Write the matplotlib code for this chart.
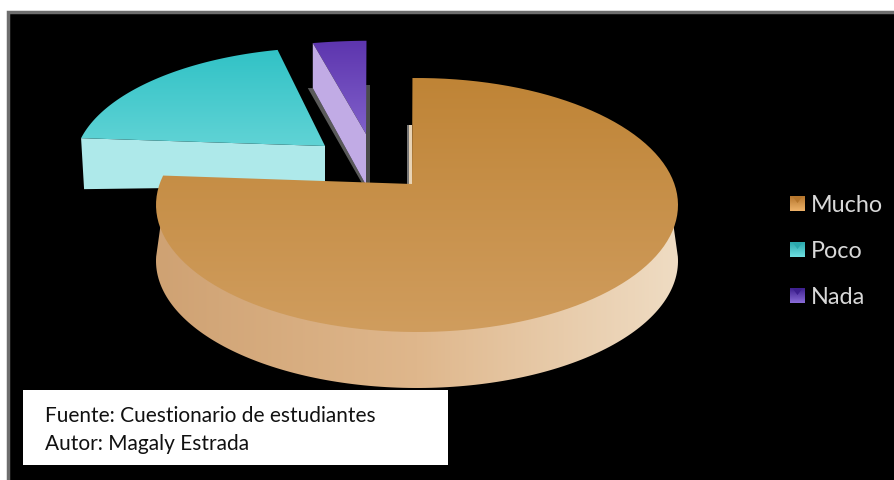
import numpy as np
import matplotlib
matplotlib.use('Agg')
import matplotlib.pyplot as plt
from matplotlib.colors import LinearSegmentedColormap
from matplotlib.patches import Polygon, Rectangle

plt.rcParams['font.family'] = ['Lato', 'DejaVu Sans']

categories = ['Mucho', 'Poco', 'Nada']
values = [79, 18, 3]

top_colors = [('#bf8436', '#d09d5e'), ('#31c2c6', '#60d3d5'), ('#5d35ae', '#8060ca')]
side_colors = ['#aee9ea', '#c1abe5']
wall_colors = ['#cfa273', '#dfb78c', '#efdcc3']
legend_colors = [('#b5762c', '#eeb26a'), ('#2aa8ac', '#6fe0e2'), ('#3d1f8e', '#8a6cd8')]
note_lines = ['Fuente: Cuestionario de estudiantes', 'Autor: Magaly Estrada']

# pie projection, in pixels of the original picture
cx, cy, rx, ry = 417, 205, 261, 127
apex = np.array([412, 184])
depth = 56
offsets = [(0, 0), (-87, -38), (-46, -50)]
scales = [(1, 1), (0.98, 0.93), (1.1, 0.88)]

fig = plt.figure(figsize=(8.95, 4.8), dpi=100, facecolor='white')
ax = fig.add_axes([0, 0, 1, 1])
ax.set_xlim(0, 895)
ax.set_ylim(480, 0)
ax.axis('off')


def rim(t):
    t = np.radians(t)
    return np.column_stack([cx + rx * np.sin(t), cy - ry * np.cos(t)])


def gradient_poly(pts, c1, c2, horizontal=False, colors=None, zorder=2):
    # fill a polygon with a gradient by clipping an image
    cmap = LinearSegmentedColormap.from_list('g', colors if colors else [c1, c2])
    grad = np.linspace(0, 1, 256)
    grad = grad[None, :] if horizontal else grad[:, None]
    x0, x1, y0, y1 = pts[:, 0].min(), pts[:, 0].max(), pts[:, 1].min(), pts[:, 1].max()
    im = ax.imshow(grad, cmap=cmap, extent=[x0, x1, y1, y0], aspect='auto', zorder=zorder)
    patch = Polygon(pts, closed=True, transform=ax.transData, fc='none', ec='none')
    ax.add_patch(patch)
    im.set_clip_path(patch)


# black panel and grey frame, only top and left show
ax.add_patch(Rectangle((8, 12), 900, 480, fc='black', ec='#6e6e6e', lw=2.5, zorder=0))

# slice angles come from the values
angles = np.cumsum([0] + values) / sum(values) * 360 - 1
slices = []
for i in range(3):
    t = np.linspace(angles[i], angles[i + 1], 120)
    p = rim(t) - apex
    p = p * np.array(scales[i]) + apex + np.array(offsets[i])
    slices.append((apex + np.array(offsets[i]), p))

# Nada, furthest back
a, p = slices[2]
wall = np.array([p[0], a, a + [0, 51], p[0] + [0, 45]])
ax.add_patch(Polygon([wall[3] + [-5, 0], wall[3], wall[2], wall[2] + [-3, 0]],
                     fc='#5a5a5a', ec='none', zorder=1))
ax.add_patch(Rectangle((a[0], a[1] - 49), 4, 100, fc='#4a4a4a', ec='none', zorder=1))
gradient_poly(np.vstack([a, p]), *top_colors[2], zorder=3)
ax.add_patch(Polygon(wall, fc=side_colors[1], ec='none', zorder=3))

# Poco
a, p = slices[1]
wall = np.array([p[0], a, a + [0, 40], p[0] + [3, 51]])
ax.add_patch(Polygon(wall, fc=side_colors[0], ec='none', zorder=4))
gradient_poly(np.vstack([a, p]), *top_colors[1], zorder=4)

# Mucho outer wall, then its top
a, p = slices[0]
tw = np.linspace(88, 272, 150)
r = rim(tw)
inner = np.array([cx, cy]) + 0.97 * (r - np.array([cx, cy]))
wall = np.vstack([inner, (r + [0, depth])[::-1]])
gradient_poly(wall, None, None, horizontal=True,
              colors=[wall_colors[0], wall_colors[1], wall_colors[2]], zorder=5)
ax.add_patch(Rectangle((407, 125), 2.5, 60, fc='#777777', ec='none', zorder=5))
ax.add_patch(Rectangle((409.5, 125), 2.5, 60, fc='#e8d3b5', ec='none', zorder=5))
gradient_poly(np.vstack([a, p]), *top_colors[0], zorder=6)

# legend
legend_y = [204, 250, 296]
for name, y, col in zip(categories, legend_y, legend_colors):
    sq = np.array([[790, y - 8], [805, y - 8], [805, y + 7], [790, y + 7]])
    gradient_poly(sq, col[0], col[1], zorder=7)
    ax.add_patch(Polygon([[793, y - 7], [802, y - 7], [797.5, y - 1]], fc=col[0], ec='none', zorder=8))
    ax.text(811, y + 1, name, color='#d8d8d8', fontsize=16.8, va='center', ha='left', zorder=8)

# note box
ax.add_patch(Rectangle((23, 390), 425, 75, fc='white', ec='none', zorder=9))
for line, y in zip(note_lines, [416, 444]):
    ax.text(45, y, line, color='#111111', fontsize=15, va='center', ha='left', zorder=10)

ax.set_xlim(0, 895)
ax.set_ylim(480, 0)
fig.savefig('out.png', dpi=100)
